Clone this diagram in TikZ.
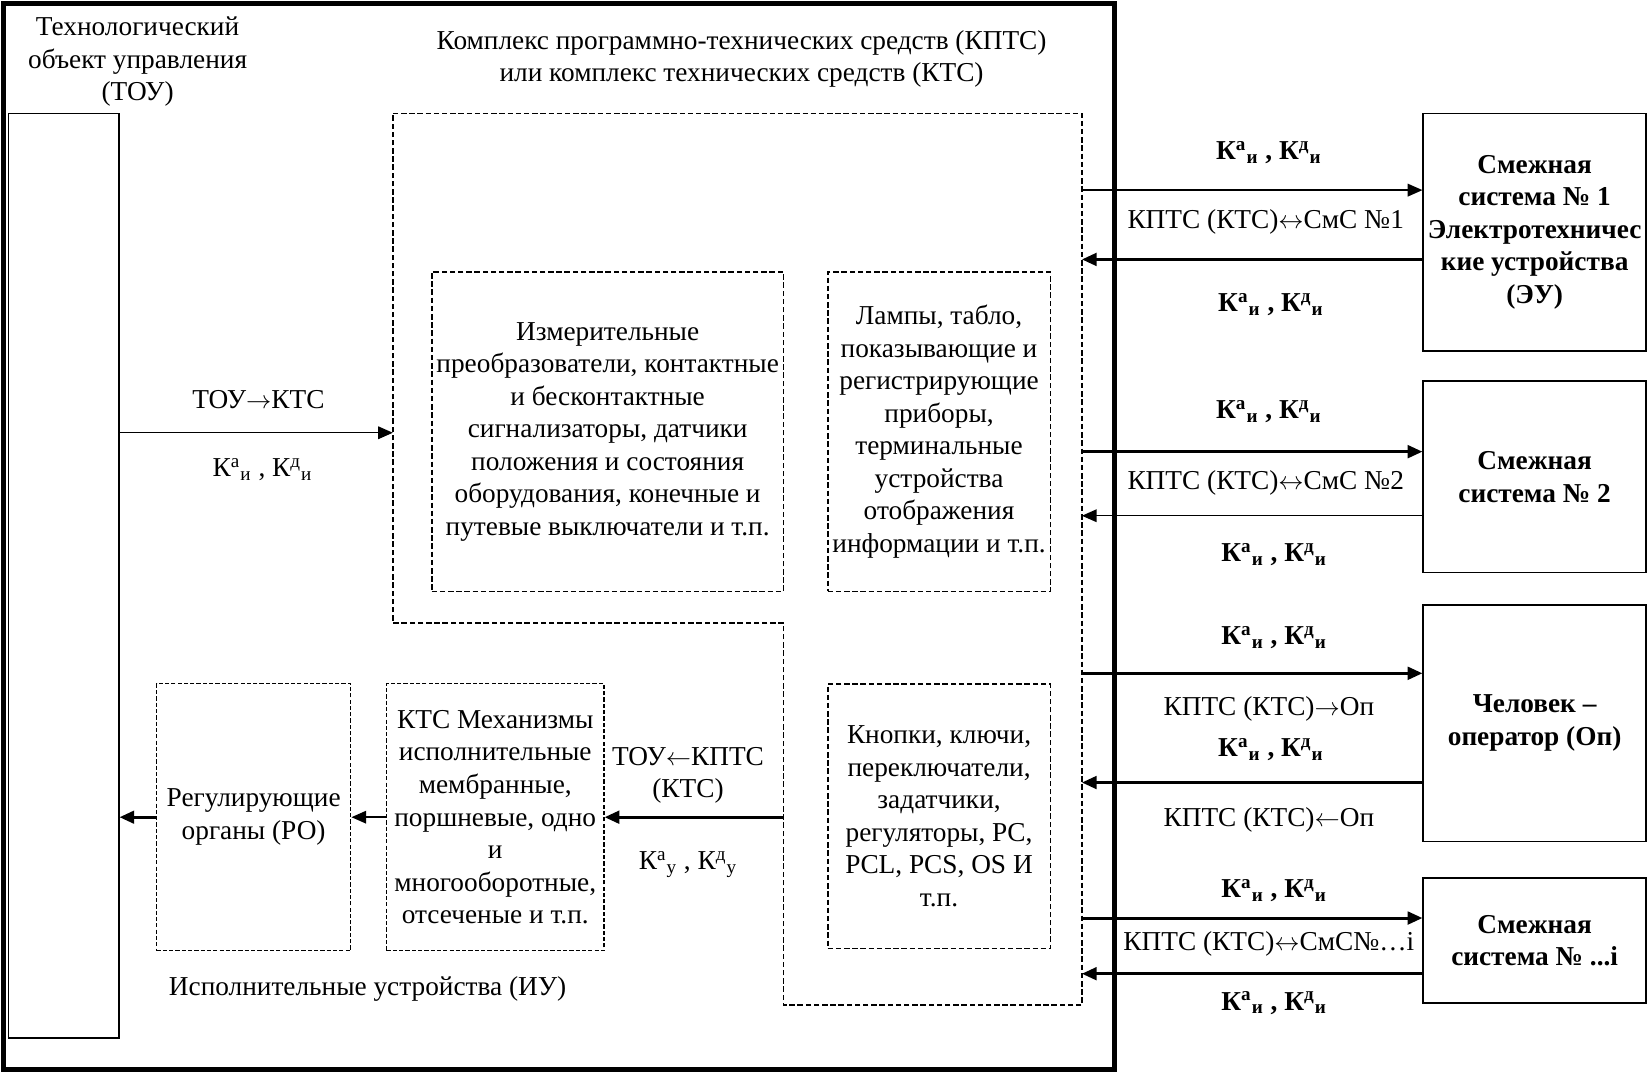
\documentclass[tikz,border=0pt]{standalone}
\usepackage{fontspec}
\setmainfont{Liberation Serif}
\usetikzlibrary{arrows.meta,fit}
\newcommand\KK[2]{К\textsuperscript{#1}\textsubscript{#2}}
\newcommand\ra{$\rightarrow$}
\newcommand\la{$\leftarrow$}
\newcommand\lra{$\leftrightarrow$}
\tikzset{
  frame/.style={line width=2.4pt},
  sbox/.style={draw, line width=0.8pt, inner sep=0pt},
  dbox/.style={draw, line width=0.8pt, inner sep=0pt, dash pattern=on 2.6pt off 1.3pt},
  fdbox/.style={draw, line width=0.6pt, inner sep=0pt, dash pattern=on 2pt off 1pt},
  txt/.style={align=center, inner sep=0pt},
  btxt/.style={align=center, inner sep=0pt, font=\fontsize{13}{15.5}\selectfont\bfseries},
  arr/.style={-{Triangle[length=7pt,width=6pt]}, line width=0.7pt},
  tarr/.style={-{Triangle[length=7pt,width=6pt]}, line width=1.4pt},
}
\begin{document}
\begin{tikzpicture}[x=0.5pt,y=-0.5pt, font=\fontsize{13}{15.5}\selectfont]
\useasboundingbox (0,0) rectangle (1568,1021);
% outer frame
\draw[frame] (3,3) rectangle (1061,1018);
% titles
\node[txt] (toutitle) at (131,59) {Технологический\\объект управления\\(ТОУ)};
\node[txt] (kptstitle) at (706,56) {Комплекс программно-технических средств (КПТС)\\или комплекс технических средств (КТС)};
% TOU box
\node[sbox, fit={(8,108) (113,988)}] (tou) {};
% big dashed KPTS region
\coordinate (kL) at (374,108);
\coordinate (kR) at (1030,108);
\draw[dbox] (374,108) -- (1030,108) -- (1030,957) -- (746,957) -- (746,593) -- (374,593) -- cycle;
\coordinate (kM) at (746,778);
% inner boxes
\node[dbox, fit={(411,259) (746,563)}] (meas) {};
\node[txt] at (meas.center) {Измерительные\\преобразователи, контактные\\и бесконтактные\\сигнализаторы, датчики\\положения и состояния\\оборудования, конечные и\\путевые выключатели и т.п.};
\node[dbox, fit={(788,259) (1000,563)}] (lamps) {};
\node[txt] at (lamps.center) {Лампы, табло,\\показывающие и\\регистрирующие\\приборы,\\терминальные\\устройства\\отображения\\информации и т.п.};
\node[dbox, fit={(788,651) (1000,903)}] (btn) {};
\node[txt] at (btn.center) {Кнопки, ключи,\\переключатели,\\задатчики,\\регуляторы, PC,\\PCL, PCS, OS И\\т.п.};
\node[fdbox, fit={(368,651) (575,905)}] (mech) {};
\node[txt] at (mech.center) {КТС Механизмы\\исполнительные\\мембранные,\\поршневые, одно\\и\\многооборотные,\\отсеченые и т.п.};
\node[fdbox, fit={(149,651) (334,905)}] (ro) {};
\node[txt] at (ro.center) {Регулирующие\\органы (РО)};
\node[txt] (iu) at (350,942) {Исполнительные устройства (ИУ)};
% left arrows
\draw[arr] (tou.east |- 0,412) -- (kL |- 0,412);
\node[txt] (l1) at (246,380) {ТОУ\ra КТС};
\node[txt] (l2) at (250,447) {\KK{а}{и} , \KK{д}{и}};
\draw[tarr] (kM) -- (mech.east |- kM);
\node[txt] (l3) at (655,738) {ТОУ\la КПТС\\(КТС)};
\node[txt] (l4) at (655,823) {\KK{а}{у} , \KK{д}{у}};
\draw[arr] (mech.west |- kM) -- (ro.east |- kM);
\draw[tarr] (ro.west |- kM) -- (tou.east |- kM);
% right boxes
\node[sbox, fit={(1355,108) (1567,334)}] (s1) {};
\node[btxt] at (s1.center) {Смежная\\система № 1\\Электротехничес\\кие устройства\\(ЭУ)};
\node[sbox, fit={(1355,363) (1567,545)}] (s2) {};
\node[btxt] at (s2.center) {Смежная\\система № 2};
\node[sbox, fit={(1355,576) (1567,801)}] (op) {};
\node[btxt] at (op.center) {Человек –\\оператор (Оп)};
\node[sbox, fit={(1355,836) (1567,955)}] (si) {};
\node[btxt] at (si.center) {Смежная\\система № ...i};
% right arrows
\draw[arr] (kR |- 0,181) -- (s1.west |- 0,181);
\draw[tarr] (s1.west |- 0,247) -- (kR |- 0,247);
\node[btxt] at (1208,145) {\KK{а}{и} , \KK{д}{и}};
\node[txt] at (1205,211) {КПТС (КТС)\lra СмС №1};
\node[btxt] at (1210,290) {\KK{а}{и} , \KK{д}{и}};
\draw[tarr] (kR |- 0,430) -- (s2.west |- 0,430);
\draw[arr] (s2.west |- 0,491) -- (kR |- 0,491);
\node[btxt] at (1208,392) {\KK{а}{и} , \KK{д}{и}};
\node[txt] at (1205,460) {КПТС (КТС)\lra СмС №2};
\node[btxt] at (1213,528) {\KK{а}{и} , \KK{д}{и}};
\draw[tarr] (kR |- 0,641) -- (op.west |- 0,641);
\draw[tarr] (op.west |- 0,745) -- (kR |- 0,745);
\node[btxt] at (1213,607) {\KK{а}{и} , \KK{д}{и}};
\node[txt] at (1208,675) {КПТС (КТС)\ra Оп};
\node[btxt] at (1210,714) {\KK{а}{и} , \KK{д}{и}};
\node[txt] at (1208,781) {КПТС (КТС)\la Оп};
\draw[tarr] (kR |- 0,874) -- (si.west |- 0,874);
\draw[tarr] (si.west |- 0,927) -- (kR |- 0,927);
\node[btxt] at (1213,848) {\KK{а}{и} , \KK{д}{и}};
\node[txt] at (1208,899) {КПТС (КТС)\lra СмС№…i};
\node[btxt] at (1213,955) {\KK{а}{и} , \KK{д}{и}};
\end{tikzpicture}
\end{document}
